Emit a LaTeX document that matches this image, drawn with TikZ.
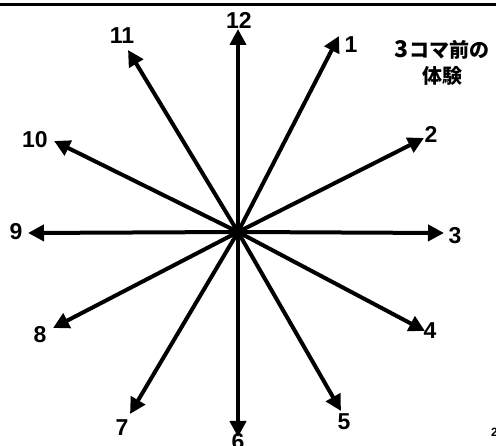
\documentclass[tikz,border=0pt]{standalone}
\usepackage{fontspec}
\setmainfont{Liberation Sans}
\newfontfamily\cjk{Noto Sans CJK JP}
\usetikzlibrary{arrows.meta}
\begin{document}
\begin{tikzpicture}[x=1pt,y=-1pt,
  spoke/.style={line width=4pt,-{Triangle[length=16pt,width=16pt]}},
  num/.style={font=\fontsize{23}{23}\selectfont\bfseries,inner sep=0pt},
  note/.style={font=\cjk\bfseries\fontsize{20}{26}\selectfont,inner sep=0pt,align=center}]
\useasboundingbox (0,0) rectangle (496,446);
\draw[line width=3pt] (0,5) -- (496,5);
\coordinate (O) at (238,232);
\coordinate (t12) at (238,29);
\coordinate (t1) at (339,36);
\coordinate (t2) at (424,138);
\coordinate (t3) at (444,233);
\coordinate (t4) at (425,331);
\coordinate (t5) at (341,411);
\coordinate (t6) at (238,437);
\coordinate (t7) at (130,414);
\coordinate (t8) at (53,328);
\coordinate (t9) at (28,233);
\coordinate (t10) at (54,141);
\coordinate (t11) at (128,50);
\foreach \i in {1,...,12} \draw[spoke] (O) -- (t\i);
\node[num] (n12) at (239,20) {12};
\node[num] (n1) at (351,45) {1};
\node[num] (n2) at (431,134) {2};
\node[num] (n3) at (455,236) {3};
\node[num] (n4) at (430,331) {4};
\node[num] (n5) at (344,422) {5};
\node[num] (n6) at (238,442) {6};
\node[num] (n7) at (122,428) {7};
\node[num] (n8) at (40,335) {8};
\node[num] (n9) at (16,232) {9};
\node[num] (n10) at (35,140) {10};
\node[num] (n11) at (122,36) {11};
\node[note] (title) at (442,63) {{\fontsize{23}{26}\selectfont 3}コマ前の\\体験};
\node[anchor=west,inner sep=0pt,font=\fontsize{12}{12}\selectfont\bfseries] (pg) at (491,432) {2};
\end{tikzpicture}
\end{document}
